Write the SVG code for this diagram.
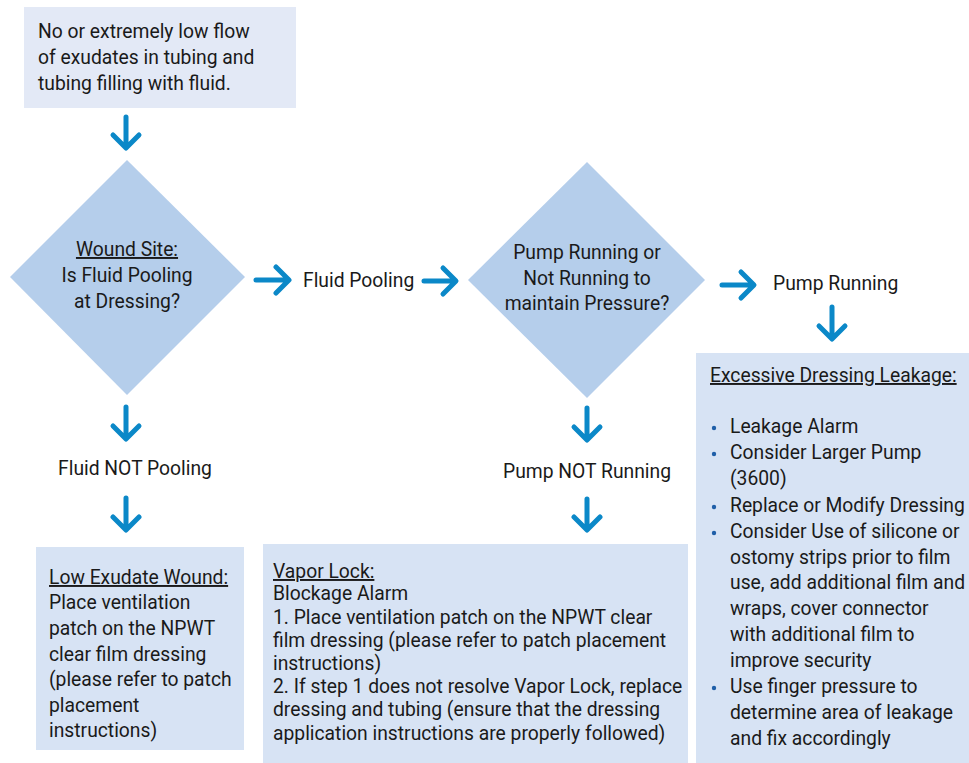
<svg xmlns="http://www.w3.org/2000/svg" width="969" height="763" viewBox="0 0 969 763">
<style>
text{font-family:Roboto,"Liberation Sans",sans-serif;font-size:19.3px;fill:#1a1a1a}
.c{text-anchor:middle}
.u{text-decoration:underline}
.box1{fill:#e3e9f6}
.box{fill:#d7e3f4}
.dia{fill:#b5ceeb}
.arr{fill:none;stroke:#0b88c8;stroke-width:5;stroke-linecap:round;stroke-linejoin:round}
.bul{fill:#1f5fa8}
</style>
<rect width="969" height="763" fill="#ffffff"/>
<g id="start">
<rect class="box1" x="24" y="7" width="272" height="101"/>
<text x="38" y="38">No or extremely low flow</text>
<text x="38" y="64">of exudates in tubing and</text>
<text x="38" y="90">tubing filling with fluid.</text>
</g>
<g id="wound-site">
<polygon class="dia" points="127,160 245,277 127,395 10,277"/>
<text class="c u" x="127" y="256">Wound Site:</text>
<text class="c" x="127" y="282">Is Fluid Pooling</text>
<text class="c" x="127" y="308">at Dressing?</text>
</g>
<g id="fluid-pooling">
<text x="303" y="287">Fluid Pooling</text>
</g>
<g id="pump-decision">
<polygon class="dia" points="587,162 705,280 587,398 468,280"/>
<text class="c" x="587" y="259">Pump Running or</text>
<text class="c" x="587" y="285">Not Running to</text>
<text class="c" x="587" y="310">maintain Pressure?</text>
</g>
<g id="pump-running">
<text x="773" y="290">Pump Running</text>
</g>
<g id="fluid-not-pooling">
<text class="c" x="135" y="475">Fluid NOT Pooling</text>
</g>
<g id="pump-not-running">
<text class="c" x="587" y="478">Pump NOT Running</text>
</g>
<g id="low-exudate">
<rect class="box" x="36" y="547" width="208" height="203"/>
<text class="u" x="49" y="584">Low Exudate Wound:</text>
<text x="49" y="609">Place ventilation</text>
<text x="49" y="635">patch on the NPWT</text>
<text x="49" y="661">clear film dressing</text>
<text x="49" y="686">(please refer to patch</text>
<text x="49" y="712">placement</text>
<text x="49" y="737">instructions)</text>
</g>
<g id="vapor-lock">
<rect class="box" x="263" y="544" width="425" height="219"/>
<text class="u" x="273" y="578">Vapor Lock:</text>
<text x="273" y="600">Blockage Alarm</text>
<text x="273" y="624">1. Place ventilation patch on the NPWT clear</text>
<text x="273" y="647">film dressing (please refer to patch placement</text>
<text x="273" y="670">instructions)</text>
<text x="273" y="693">2. If step 1 does not resolve Vapor Lock, replace</text>
<text x="273" y="716">dressing and tubing (ensure that the dressing</text>
<text x="273" y="740">application instructions are properly followed)</text>
</g>
<g id="excessive-leakage">
<rect class="box" x="696" y="353" width="273" height="410"/>
<text class="u" x="710" y="382">Excessive Dressing Leakage:</text>
<circle class="bul" cx="714" cy="428" r="2.2"/>
<circle class="bul" cx="714" cy="454" r="2.2"/>
<circle class="bul" cx="714" cy="507" r="2.2"/>
<circle class="bul" cx="714" cy="533" r="2.2"/>
<circle class="bul" cx="714" cy="688" r="2.2"/>
<text x="730" y="433">Leakage Alarm</text>
<text x="730" y="459">Consider Larger Pump</text>
<text x="730" y="485">(3600)</text>
<text x="730" y="512">Replace or Modify Dressing</text>
<text x="730" y="538">Consider Use of silicone or</text>
<text x="730" y="564">ostomy strips prior to film</text>
<text x="730" y="589">use, add additional film and</text>
<text x="730" y="615">wraps, cover connector</text>
<text x="730" y="641">with additional film to</text>
<text x="730" y="667">improve security</text>
<text x="730" y="693">Use finger pressure to</text>
<text x="730" y="719">determine area of leakage</text>
<text x="730" y="745">and fix accordingly</text>
</g>
<g id="connectors">
<path class="arr" d="M126,117V147M113,135L126,148L139,135"/>
<path class="arr" d="M126,407V438M113,426L126,439L139,426"/>
<path class="arr" d="M126,498V529M113,517L126,530L139,517"/>
<path class="arr" d="M256,280H288M276,267L289,280L276,293"/>
<path class="arr" d="M424,281H455M443,268L456,281L443,294"/>
<path class="arr" d="M587,408V439M574,427L587,440L600,427"/>
<path class="arr" d="M587,499V529M574,517L587,530L600,517"/>
<path class="arr" d="M722,285H753M741,272L754,285L741,298"/>
<path class="arr" d="M832,307V338M819,326L832,339L845,326"/>
</g>
</svg>
